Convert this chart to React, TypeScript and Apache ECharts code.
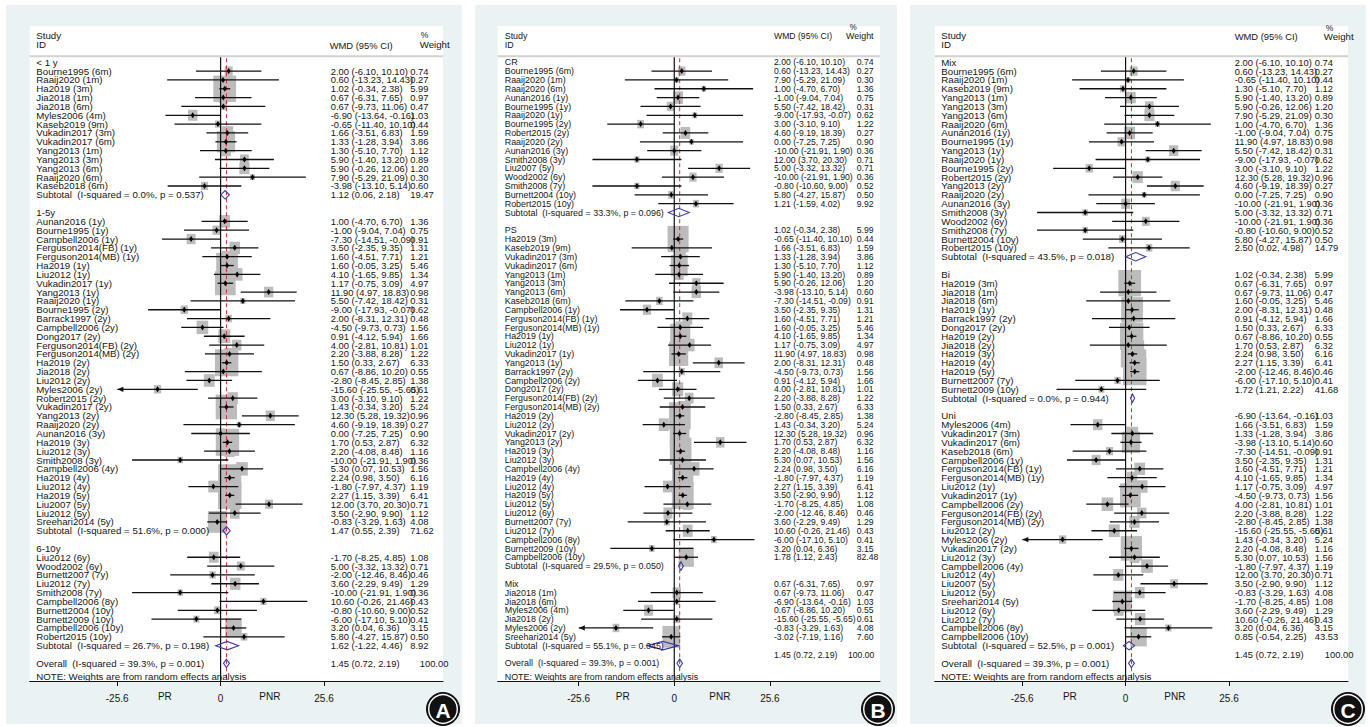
import React, { useEffect, useRef } from 'react';
import * as echarts from 'echarts';

// ---------------- DATA ----------------
const studyNames = [
  'Bourne1995 (6m)', 'Raaij2020 (1m)', 'Ha2019 (3m)', 'Jia2018 (1m)', 'Jia2018 (6m)', 'Myles2006 (4m)', 'Kaseb2019 (9m)',
  'Vukadin2017 (3m)', 'Vukadin2017 (6m)', 'Yang2013 (1m)', 'Yang2013 (3m)', 'Yang2013 (6m)', 'Raaij2020 (6m)', 'Kaseb2018 (6m)',
  'Aunan2016 (1y)', 'Bourne1995 (1y)', 'Campbell2006 (1y)', 'Ferguson2014(FB) (1y)', 'Ferguson2014(MB) (1y)', 'Ha2019 (1y)',
  'Liu2012 (1y)', 'Vukadin2017 (1y)', 'Yang2013 (1y)', 'Raaij2020 (1y)', 'Bourne1995 (2y)', 'Barrack1997 (2y)', 'Campbell2006 (2y)',
  'Dong2017 (2y)', 'Ferguson2014(FB) (2y)', 'Ferguson2014(MB) (2y)', 'Ha2019 (2y)', 'Jia2018 (2y)', 'Liu2012 (2y)', 'Myles2006 (2y)',
  'Robert2015 (2y)', 'Vukadin2017 (2y)', 'Yang2013 (2y)', 'Raaij2020 (2y)', 'Aunan2016 (3y)', 'Ha2019 (3y)', 'Liu2012 (3y)',
  'Smith2008 (3y)', 'Campbell2006 (4y)', 'Ha2019 (4y)', 'Liu2012 (4y)', 'Ha2019 (5y)', 'Liu2007 (5y)', 'Liu2012 (5y)', 'Sreehari2014 (5y)',
  'Liu2012 (6y)', 'Wood2002 (6y)', 'Burnett2007 (7y)', 'Liu2012 (7y)', 'Smith2008 (7y)', 'Campbell2006 (8y)', 'Burnett2004 (10y)',
  'Burnett2009 (10y)', 'Campbell2006 (10y)', 'Robert2015 (10y)',
];
const studyWMD = [
  2.00, 0.60, 1.02, 0.67, 0.67, -6.90, -0.65, 1.66, 1.33, 1.30, 5.90, 5.90, 7.90, -3.98,
  1.00, -1.00, -7.30, 3.50, 1.60, 1.60, 4.10, 1.17, 11.90, 5.50, -9.00, 2.00, -4.50, 0.91, 4.00, 2.20, 1.50, 0.67, -2.80, -15.60,
  3.00, 1.43, 12.30, 4.60, 0.00, 1.70, 2.20, -10.00, 5.30, 2.24, -1.80, 2.27, 12.00, 3.50, -0.83,
  -1.70, 5.00, -2.00, 3.60, -10.00, 10.60, -0.80, -6.00, 3.20, 5.80,
];
const studyLow = [
  -6.10, -13.23, -0.34, -6.31, -9.73, -13.64, -11.40, -3.51, -1.28, -5.10, -1.40, -0.26, -5.29, -13.10,
  -4.70, -9.04, -14.51, -2.35, -4.51, -0.05, -1.65, -0.75, 4.97, -7.42, -17.93, -8.31, -9.73, -4.12, -2.81, -3.88, 0.33, -8.86, -8.45, -25.55,
  -3.10, -0.34, 5.28, -9.19, -7.25, 0.53, -4.08, -21.91, 0.07, 0.98, -7.97, 1.15, 3.70, -2.90, -3.29,
  -8.25, -3.32, -12.46, -2.29, -21.91, -0.26, -10.60, -17.10, 0.04, -4.27,
];
const studyHigh = [
  10.10, 14.43, 2.38, 7.65, 11.06, -0.16, 10.10, 6.83, 3.94, 7.70, 13.20, 12.06, 21.09, 5.14,
  6.70, 7.04, -0.09, 9.35, 7.71, 3.25, 9.85, 3.09, 18.83, 18.42, -0.07, 12.31, 0.73, 5.94, 10.81, 8.28, 2.67, 10.20, 2.85, -5.65,
  9.10, 3.20, 19.32, 18.39, 7.25, 2.87, 8.48, 1.90, 10.53, 3.50, 4.37, 3.39, 20.30, 9.90, 1.63,
  4.85, 13.32, 8.46, 9.49, 1.90, 21.46, 9.00, 5.10, 6.36, 15.87,
];
const studyWeight = [
  0.74, 0.27, 5.99, 0.97, 0.47, 1.03, 0.44, 1.59, 3.86, 1.12, 0.89, 1.20, 0.30, 0.60,
  1.36, 0.75, 0.91, 1.31, 1.21, 5.46, 1.34, 4.97, 0.98, 0.31, 0.62, 0.48, 1.56, 1.66, 1.01, 1.22, 6.33, 0.55, 1.38, 0.61,
  1.22, 5.24, 0.96, 0.27, 0.90, 6.32, 1.16, 0.36, 1.56, 6.16, 1.19, 6.41, 0.71, 1.12, 4.08,
  1.08, 0.71, 0.46, 1.29, 0.36, 0.43, 0.52, 0.41, 3.15, 0.50,
];

// Panel A: follow-up time
const groupTitlesA = ['< 1 y', '1-5y', '6-10y'];
const groupMembersA = [studyNames.slice(0, 14), studyNames.slice(14, 49), studyNames.slice(49, 59)];
const subEstA = [1.12, 1.47, 1.62];
const subLowA = [0.06, 0.55, -1.22];
const subHighA = [2.18, 2.39, 4.46];
const subWeightA = [19.47, 71.62, 8.92];
const subI2A = ['0.0%', '51.6%', '26.7%'];
const subPA = ['0.537', '0.000', '0.198'];

// Panel B: prosthesis type
const groupTitlesB = ['CR', 'PS', 'Mix'];
const groupMembersB = [
  ['Bourne1995 (6m)', 'Raaij2020 (1m)', 'Raaij2020 (6m)', 'Aunan2016 (1y)', 'Bourne1995 (1y)', 'Raaij2020 (1y)', 'Bourne1995 (2y)',
    'Robert2015 (2y)', 'Raaij2020 (2y)', 'Aunan2016 (3y)', 'Smith2008 (3y)', 'Liu2007 (5y)', 'Wood2002 (6y)', 'Smith2008 (7y)',
    'Burnett2004 (10y)', 'Robert2015 (10y)'],
  ['Ha2019 (3m)', 'Kaseb2019 (9m)', 'Vukadin2017 (3m)', 'Vukadin2017 (6m)', 'Yang2013 (1m)', 'Yang2013 (3m)', 'Yang2013 (6m)',
    'Kaseb2018 (6m)', 'Campbell2006 (1y)', 'Ferguson2014(FB) (1y)', 'Ferguson2014(MB) (1y)', 'Ha2019 (1y)', 'Liu2012 (1y)',
    'Vukadin2017 (1y)', 'Yang2013 (1y)', 'Barrack1997 (2y)', 'Campbell2006 (2y)', 'Dong2017 (2y)', 'Ferguson2014(FB) (2y)',
    'Ferguson2014(MB) (2y)', 'Ha2019 (2y)', 'Liu2012 (2y)', 'Vukadin2017 (2y)', 'Yang2013 (2y)', 'Ha2019 (3y)', 'Liu2012 (3y)',
    'Campbell2006 (4y)', 'Ha2019 (4y)', 'Liu2012 (4y)', 'Ha2019 (5y)', 'Liu2012 (5y)', 'Liu2012 (6y)', 'Burnett2007 (7y)',
    'Liu2012 (7y)', 'Campbell2006 (8y)', 'Burnett2009 (10y)', 'Campbell2006 (10y)'],
  ['Jia2018 (1m)', 'Jia2018 (6m)', 'Myles2006 (4m)', 'Jia2018 (2y)', 'Myles2006 (2y)', 'Sreehari2014 (5y)'],
];
const subEstB = [1.21, 1.78, -3.02];
const subLowB = [-1.59, 1.12, -7.19];
const subHighB = [4.02, 2.43, 1.16];
const subWeightB = [9.92, 82.48, 7.60];
const subI2B = ['33.3%', '29.5%', '55.1%'];
const subPB = ['0.096', '0.050', '0.045'];

// Panel C: patellar resurfacing pattern
const groupTitlesC = ['Mix', 'Bi', 'Uni'];
const groupMembersC = [
  ['Bourne1995 (6m)', 'Raaij2020 (1m)', 'Kaseb2019 (9m)', 'Yang2013 (1m)', 'Yang2013 (3m)', 'Yang2013 (6m)', 'Raaij2020 (6m)',
    'Aunan2016 (1y)', 'Bourne1995 (1y)', 'Yang2013 (1y)', 'Raaij2020 (1y)', 'Bourne1995 (2y)', 'Robert2015 (2y)', 'Yang2013 (2y)',
    'Raaij2020 (2y)', 'Aunan2016 (3y)', 'Smith2008 (3y)', 'Wood2002 (6y)', 'Smith2008 (7y)', 'Burnett2004 (10y)', 'Robert2015 (10y)'],
  ['Ha2019 (3m)', 'Jia2018 (1m)', 'Jia2018 (6m)', 'Ha2019 (1y)', 'Barrack1997 (2y)', 'Dong2017 (2y)', 'Ha2019 (2y)', 'Jia2018 (2y)',
    'Ha2019 (3y)', 'Ha2019 (4y)', 'Ha2019 (5y)', 'Burnett2007 (7y)', 'Burnett2009 (10y)'],
  ['Myles2006 (4m)', 'Vukadin2017 (3m)', 'Vukadin2017 (6m)', 'Kaseb2018 (6m)', 'Campbell2006 (1y)', 'Ferguson2014(FB) (1y)',
    'Ferguson2014(MB) (1y)', 'Liu2012 (1y)', 'Vukadin2017 (1y)', 'Campbell2006 (2y)', 'Ferguson2014(FB) (2y)', 'Ferguson2014(MB) (2y)',
    'Liu2012 (2y)', 'Myles2006 (2y)', 'Vukadin2017 (2y)', 'Liu2012 (3y)', 'Campbell2006 (4y)', 'Liu2012 (4y)', 'Liu2007 (5y)',
    'Liu2012 (5y)', 'Sreehari2014 (5y)', 'Liu2012 (6y)', 'Liu2012 (7y)', 'Campbell2006 (8y)', 'Campbell2006 (10y)'],
];
const subEstC = [2.50, 1.72, 0.85];
const subLowC = [0.02, 1.21, -0.54];
const subHighC = [4.98, 2.22, 2.25];
const subWeightC = [14.79, 41.68, 43.53];
const subI2C = ['43.5%', '0.0%', '52.5%'];
const subPC = ['0.018', '0.944', '0.001'];

const overallEst = 1.45;
const overallLow = 0.72;
const overallHigh = 2.19;
const overallWeight = 100.0;
const overallI2 = '39.3%';
const overallP = '0.001';

const xTicks = [-25.6, 0, 25.6];
const sideLabels = ['PR', 'PNR'];
const sideLabelX = [-13.8, 12.2];
const noteText = 'NOTE: Weights are from random effects analysis';

// ---------------- STYLE / LAYOUT ----------------
const FONT = '"Liberation Sans", Arial, Helvetica, sans-serif';
const TEXT = '#151515';
const BG = '#eaf2f3';
const BOX = '#bcbcbc';
const DIAMOND = '#3b3b9e';
const RED = '#cc2f2f';
const X_MIN = -47.25;
const X_MAX = 55.05;
const Y_MIN = -4.1;
const Y_MAX = 70;
const HEADER_ROW = -0.68;
const BOX_W = 2.3; // x units per sqrt(weight)
const BOX_H = 1.22; // rows per sqrt(weight)
const ARROW_LIMIT = -25.5;
const LABEL_SIZE = 9.7;
const VALUE_SIZE = 9.4;

const panels = [
  {
    letter: 'A', titles: groupTitlesA, members: groupMembersA, sEst: subEstA, sLow: subLowA, sHigh: subHighA, sWt: subWeightA, sI2: subI2A, sP: subPA,
    left: 29.7, width: 413.3, bgX: 6, bgW: 455.7, labelDx: 6.6, valDx: 301, wtDx: 380.5, ovWtDx: 390, shift: 0, textScale: 1,
    wmdDx: 300, wmdRow: -1.85, pctDx: 391, pctRow: -3.1, wDx: 390, wRow: -1.97, circleX: 443,
  },
  {
    letter: 'B', titles: groupTitlesB, members: groupMembersB, sEst: subEstB, sLow: subLowB, sHigh: subHighB, sWt: subWeightB, sI2: subI2B, sP: subPB,
    left: 497.7, width: 382.3, bgX: 475, bgW: 422, labelDx: 7, valDx: 276.3, wtDx: 359, ovWtDx: 350.3, shift: 1, textScale: 0.92,
    wmdDx: 276.3, wmdRow: -2.95, pctDx: 352, pctRow: -3.9, wDx: 348.3, wRow: -2.95, circleX: 878,
  },
  {
    letter: 'C', titles: groupTitlesC, members: groupMembersC, sEst: subEstC, sLow: subLowC, sHigh: subHighC, sWt: subWeightC, sI2: subI2C, sP: subPC,
    left: 934.7, width: 413.3, bgX: 910, bgW: 455.7, labelDx: 6.6, valDx: 300, wtDx: 380, ovWtDx: 390, shift: 1, textScale: 1,
    wmdDx: 300, wmdRow: -2.95, pctDx: 391, pctRow: -3.9, wDx: 389, wRow: -2.95, circleX: 1348,
  },
];

type Row = { row: number; kind: string; label: string; est?: number; lo?: number; hi?: number; wt?: number };

function buildRows(p: any): Row[] {
  const rows: Row[] = [];
  let r = 0;
  p.titles.forEach((t: string, g: number) => {
    rows.push({ row: r++, kind: 'head', label: t });
    p.members[g].forEach((name: string) => {
      const i = studyNames.indexOf(name);
      rows.push({ row: r++, kind: 'study', label: name, est: studyWMD[i], lo: studyLow[i], hi: studyHigh[i], wt: studyWeight[i] });
    });
    rows.push({
      row: r++, kind: 'sub', label: `Subtotal  (I-squared = ${p.sI2[g]}, p = ${p.sP[g]})`,
      est: p.sEst[g], lo: p.sLow[g], hi: p.sHigh[g], wt: p.sWt[g],
    });
    r++;
  });
  rows.push({ row: r, kind: 'overall', label: `Overall  (I-squared = ${overallI2}, p = ${overallP})`, est: overallEst, lo: overallLow, hi: overallHigh, wt: overallWeight });
  rows.push({ row: r + 1.5, kind: 'note', label: noteText });
  return rows;
}

const fmt = (v: number) => v.toFixed(2);

function buildTexts(p: any, rows: Row[]) {
  const items: any[] = [];
  items.push({ row: -3.0, dx: p.labelDx, text: 'Study', size: LABEL_SIZE });
  items.push({ row: -1.97, dx: p.labelDx, text: 'ID', size: LABEL_SIZE });
  items.push({ row: p.wmdRow, dx: p.wmdDx, text: 'WMD (95% CI)', size: VALUE_SIZE });
  items.push({ row: p.pctRow, dx: p.pctDx, text: '%', size: 8.5 });
  items.push({ row: p.wRow, dx: p.wDx, text: 'Weight', size: LABEL_SIZE });
  rows.forEach((r) => {
    items.push({ row: r.row, dx: p.labelDx, text: r.label, size: LABEL_SIZE });
    if (r.est !== undefined) {
      const vr = r.row - p.shift;
      items.push({ row: vr, dx: p.valDx, text: `${fmt(r.est!)} (${fmt(r.lo!)}, ${fmt(r.hi!)})`, size: VALUE_SIZE });
      items.push({ row: vr, dx: r.kind === 'overall' ? p.ovWtDx : p.wtDx, text: fmt(r.wt!), size: VALUE_SIZE });
    }
  });
  sideLabels.forEach((s, i) => items.push({ row: 71.8, xVal: sideLabelX[i], text: s, align: 'center', size: 10, noScale: true }));
  return items;
}

function buildOption() {
  const graphic: any[] = [];
  const grid: any[] = [];
  const xAxis: any[] = [];
  const yAxis: any[] = [];
  const series: any[] = [];

  panels.forEach((p, gi) => {
    graphic.push({ type: 'rect', z: -10, shape: { x: p.bgX, y: 5, width: p.bgW, height: 719 }, style: { fill: BG } });
    graphic.push({ type: 'rect', z: -9, shape: { x: p.left, y: 26, width: p.width, height: 655 }, style: { fill: '#ffffff' } });
    graphic.push({ type: 'circle', z: 50, shape: { cx: p.circleX, cy: 709, r: 16.5 }, style: { fill: '#111111', stroke: '#111111', lineWidth: 1 } });
    graphic.push({ type: 'circle', z: 51, shape: { cx: p.circleX, cy: 709, r: 14.3 }, style: { fill: 'none', stroke: '#ffffff', lineWidth: 1.4 } });
    graphic.push({
      type: 'text', z: 52, x: p.circleX, y: 710,
      style: { text: p.letter, fill: '#ffffff', fontSize: 21, fontWeight: 'bold', fontFamily: FONT, align: 'center', verticalAlign: 'middle' },
    });

    grid.push({ left: p.left, top: 26, width: p.width, height: 655, show: false, containLabel: false });
    xAxis.push({
      type: 'value', gridIndex: gi, min: X_MIN, max: X_MAX, position: 'bottom',
      axisLine: { show: true, onZero: false, lineStyle: { color: '#111', width: 1 } },
      axisTick: { show: true, customValues: xTicks, length: 5, lineStyle: { color: '#111', width: 1 } },
      axisLabel: {
        customValues: xTicks, fontSize: 10, color: TEXT, fontFamily: FONT, margin: 12,
        formatter: (v: number) => (v === 0 ? '0' : v.toFixed(1)),
      },
      splitLine: { show: false },
    });
    yAxis.push({ type: 'value', gridIndex: gi, min: Y_MIN, max: Y_MAX, inverse: true, show: false });

    const rows = buildRows(p);
    const studyRows = rows.filter((r) => r.kind === 'study');
    const pooledRows = rows.filter((r) => r.kind === 'sub' || r.kind === 'overall');
    const texts = buildTexts(p, rows);

    // weight boxes
    series.push({
      type: 'custom', xAxisIndex: gi, yAxisIndex: gi, silent: true, z: 2,
      data: studyRows.map((r) => [r.est, r.row]),
      renderItem: (params: any, api: any) => {
        const r = studyRows[params.dataIndex];
        const c = api.coord([r.est, r.row]);
        const s = Math.sqrt(r.wt!);
        const sz = api.size([BOX_W * s, BOX_H * s]);
        const w = Math.abs(sz[0]);
        const h = Math.abs(sz[1]);
        return { type: 'rect', shape: { x: c[0] - w / 2, y: c[1] - h / 2, width: w, height: h }, style: { fill: BOX } };
      },
    });

    // frame: header rule, null line, overall dashed line
    series.push({
      type: 'custom', xAxisIndex: gi, yAxisIndex: gi, silent: true, z: 3,
      data: [[0, 0]],
      renderItem: (params: any, api: any) => {
        const cs = params.coordSys;
        const yTop = api.coord([0, HEADER_ROW])[1];
        const yBot = cs.y + cs.height;
        const x0 = api.coord([0, 0])[0];
        const xo = api.coord([overallEst, 0])[0];
        return {
          type: 'group',
          children: [
            { type: 'line', shape: { x1: cs.x, y1: yTop, x2: cs.x + cs.width, y2: yTop }, style: { stroke: '#d2d2d2', lineWidth: 2 } },
            { type: 'line', shape: { x1: x0, y1: yTop + 1, x2: x0, y2: yBot }, style: { stroke: '#111', lineWidth: 1.2 } },
            { type: 'line', shape: { x1: xo, y1: yTop + 2, x2: xo, y2: yBot }, style: { stroke: RED, lineWidth: 1, lineDash: [4, 3] } },
          ],
        };
      },
    });

    // CI lines and point markers
    series.push({
      type: 'custom', xAxisIndex: gi, yAxisIndex: gi, silent: true, z: 4,
      data: studyRows.map((r) => [r.est, r.row]),
      renderItem: (params: any, api: any) => {
        const r = studyRows[params.dataIndex];
        const y = api.coord([0, r.row])[1];
        const xl = api.coord([r.lo, 0])[0];
        const xh = api.coord([r.hi, 0])[0];
        const xe = api.coord([r.est, 0])[0];
        const children: any[] = [
          { type: 'line', shape: { x1: xl, y1: y, x2: xh, y2: y }, style: { stroke: '#111', lineWidth: 1.3 } },
          { type: 'polygon', shape: { points: [[xe - 2, y], [xe, y - 3], [xe + 2, y], [xe, y + 3]] }, style: { fill: '#000' } },
        ];
        if (r.lo! < ARROW_LIMIT) {
          children.push({ type: 'polygon', shape: { points: [[xl, y], [xl + 6, y - 2.6], [xl + 6, y + 2.6]] }, style: { fill: '#111' } });
        }
        return { type: 'group', children };
      },
    });

    // pooled diamonds
    series.push({
      type: 'custom', xAxisIndex: gi, yAxisIndex: gi, silent: true, z: 4,
      data: pooledRows.map((r) => [r.est, r.row]),
      renderItem: (params: any, api: any) => {
        const r = pooledRows[params.dataIndex];
        const y = api.coord([0, r.row])[1];
        const xl = api.coord([r.lo, 0])[0];
        const xh = api.coord([r.hi, 0])[0];
        const xe = api.coord([r.est, 0])[0];
        return {
          type: 'polygon',
          shape: { points: [[xl, y], [xe, y - 4.2], [xh, y], [xe, y + 4.2]] },
          style: { fill: 'none', stroke: DIAMOND, lineWidth: 1.1 },
        };
      },
    });

    // texts
    series.push({
      type: 'custom', xAxisIndex: gi, yAxisIndex: gi, silent: true, z: 6,
      data: texts.map((t) => [0, t.row]),
      renderItem: (params: any, api: any) => {
        const t = texts[params.dataIndex];
        const cs = params.coordSys;
        const y = api.coord([0, t.row])[1];
        const x = t.xVal !== undefined ? api.coord([t.xVal, 0])[0] : cs.x + t.dx;
        return {
          type: 'text', x, y,
          scaleX: t.noScale ? 1 : p.textScale,
          style: {
            text: t.text, fill: TEXT, fontSize: t.size || 10, fontFamily: FONT,
            align: t.align || 'left', verticalAlign: 'middle',
          },
        };
      },
    });
  });

  return { animation: false, backgroundColor: '#ffffff', graphic, grid, xAxis, yAxis, series };
}

export default function App() {
  const ref = useRef<HTMLDivElement>(null);
  useEffect(() => {
    document.body.style.margin = '0';
    const chart = echarts.init(ref.current as HTMLDivElement, null, { renderer: 'svg' });
    chart.setOption(buildOption() as any);
    return () => chart.dispose();
  }, []);
  return <div ref={ref} style={{ width: 1370, height: 727 }} />;
}
